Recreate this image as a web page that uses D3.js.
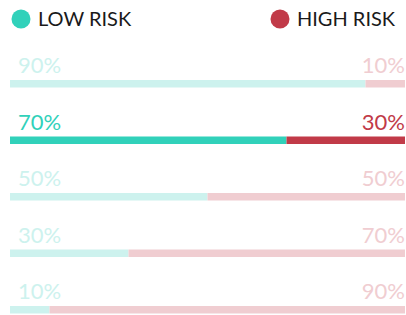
<!DOCTYPE html>
<html>
<head>
<meta charset="utf-8">
<script src="https://cdn.jsdelivr.net/npm/d3@7"></script>
<style>
  body { margin: 0; background: #fff; }
  svg { display: block; font-family: Lato, "Open Sans", sans-serif; }
</style>
</head>
<body>
<svg id="chart" width="406" height="315"></svg>
<script>
// data
const lowRisk = [90, 70, 50, 30, 10];
const highRisk = [10, 30, 50, 70, 90];
const activeRow = 1;
const legendLabels = ["LOW RISK", "HIGH RISK"];

const teal = "#31d1ba";
const red = "#c13a48";
const tealLight = "#cdf2ee";
const redLight = "#f0cdd1";

const svg = d3.select("#chart");

// legend
const legend = svg.append("g");
const legendX = [21, 280];
const legendColors = [teal, red];
legendLabels.forEach((t, i) => {
  legend.append("circle")
    .attr("cx", legendX[i])
    .attr("cy", 19)
    .attr("r", 9.5)
    .attr("fill", legendColors[i]);
  legend.append("text")
    .attr("x", legendX[i] + 17)
    .attr("y", 26)
    .attr("font-size", 20)
    .attr("fill", "#1a1a1a")
    .text(t);
});

const x = d3.scaleLinear().domain([0, 100]).range([10, 405]);
const y = d3.scalePoint().domain(d3.range(lowRisk.length)).range([80, 306]);
const barH = 7.5;

const rows = svg.selectAll("g.row")
  .data(lowRisk.map((v, i) => ({ i, low: v, high: highRisk[i] })))
  .enter()
  .append("g")
  .attr("class", "row");

rows.append("rect")
  .attr("x", x(0))
  .attr("y", d => y(d.i))
  .attr("width", d => x(d.low) - x(0))
  .attr("height", barH)
  .attr("fill", d => d.i === activeRow ? teal : tealLight);

rows.append("rect")
  .attr("x", d => x(d.low))
  .attr("y", d => y(d.i))
  .attr("width", d => x(100) - x(d.low))
  .attr("height", barH)
  .attr("fill", d => d.i === activeRow ? red : redLight);

rows.append("text")
  .attr("x", 18)
  .attr("y", d => y(d.i) - 7)
  .attr("font-size", 22)
  .attr("fill", d => d.i === activeRow ? teal : tealLight)
  .text(d => d.low + "%");

rows.append("text")
  .attr("x", 405)
  .attr("y", d => y(d.i) - 7)
  .attr("text-anchor", "end")
  .attr("font-size", 22)
  .attr("fill", d => d.i === activeRow ? red : redLight)
  .text(d => d.high + "%");
</script>
</body>
</html>
